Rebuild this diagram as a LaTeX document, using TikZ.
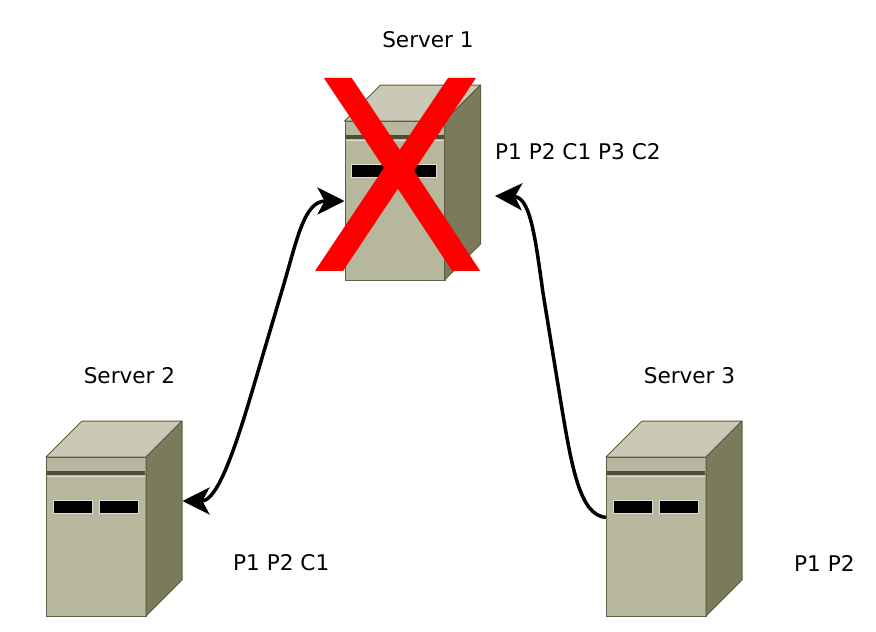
\documentclass[tikz,border=0pt]{standalone}
\usepackage{fontspec}
\setmainfont{DejaVu Sans}
\usetikzlibrary{arrows.meta}
\definecolor{srvfront}{HTML}{B7B79D}
\definecolor{srvtop}{HTML}{C9C9B5}
\definecolor{srvside}{HTML}{7B7B5C}
\definecolor{srvedge}{HTML}{5C5C45}
\definecolor{srvband}{HTML}{4D4D38}
\definecolor{srvlight}{HTML}{DEDED0}
\tikzset{
  x=1pt, y=-1pt,
  label text/.style={inner sep=0pt, font=\fontsize{21.6}{26}\selectfont, text=black},
  panel/.style={draw=srvedge, line width=1pt, line join=round},
  slot/.style={fill=black, draw=srvlight, line width=0.8pt},
  link/.style={line width=3.5pt, black},
  head/.tip={Stealth[length=27pt, width=27pt, inset=7pt]},
  pics/server/.style={code={
    % front face, with the drive bay slots and the trim band
    \node[panel, fill=srvfront, minimum width=100pt, minimum height=159pt, inner sep=0pt, anchor=north west]
      (-body) at (0,0) {};
    \fill[srvtop, panel] (0,0) -- (36,-36) -- (136,-36) -- (100,0) -- cycle;
    \fill[srvside, panel] (100,0) -- (136,-36) -- (136,123) -- (100,159) -- cycle;
    \fill[srvband] (1,14.3) rectangle (99,18);
    \fill[srvlight] (1,18.7) rectangle (99,19.7);
    \path[slot] (7,43) rectangle (46,56.3);
    \path[slot] (53,43) rectangle (92,56.3);
    \coordinate (-east) at (136.5,44);
    \coordinate (-port) at (0,60.5);
  }}
}
\begin{document}
\begin{tikzpicture}
\useasboundingbox (0,0) rectangle (876,632);

\pic (srvone) at (344.5,121) {server};
\pic (srvtwo) at (46,457) {server};
\pic (srvthree) at (606,457) {server};

% the failed server is struck through
\node[inner sep=0pt, text=red, font=\fontsize{265}{265}\selectfont] (failmark) at (398.5,174.5) {X};

\node[label text] (nameone) at (428,40) {Server 1};
\node[label text] (nametwo) at (129.5,376) {Server 2};
\node[label text] (namethree) at (689.5,376) {Server 3};
\node[label text, anchor=west] (dataone) at (495,152) {P1 P2 C1 P3 C2};
\node[label text, anchor=west] (datatwo) at (233,563) {P1 P2 C1};
\node[label text, anchor=west] (datathree) at (794,563) {P1 P2};

\coordinate (recovery) at (495,196);
% each link bends hard near its ends and runs almost straight in between
\draw[link, {head}-{head}] (srvtwo-east) .. controls (216,501) and (232,460) .. (254,385)
  -- (283,287) .. controls (297,240) and (304,201) .. (srvone-body.west);
\draw[link, -{head}] (srvthree-port) .. controls (580,515) and (572,470) .. (560,397)
  -- (543,293) .. controls (535,235) and (530,197) .. (recovery);
\end{tikzpicture}
\end{document}
